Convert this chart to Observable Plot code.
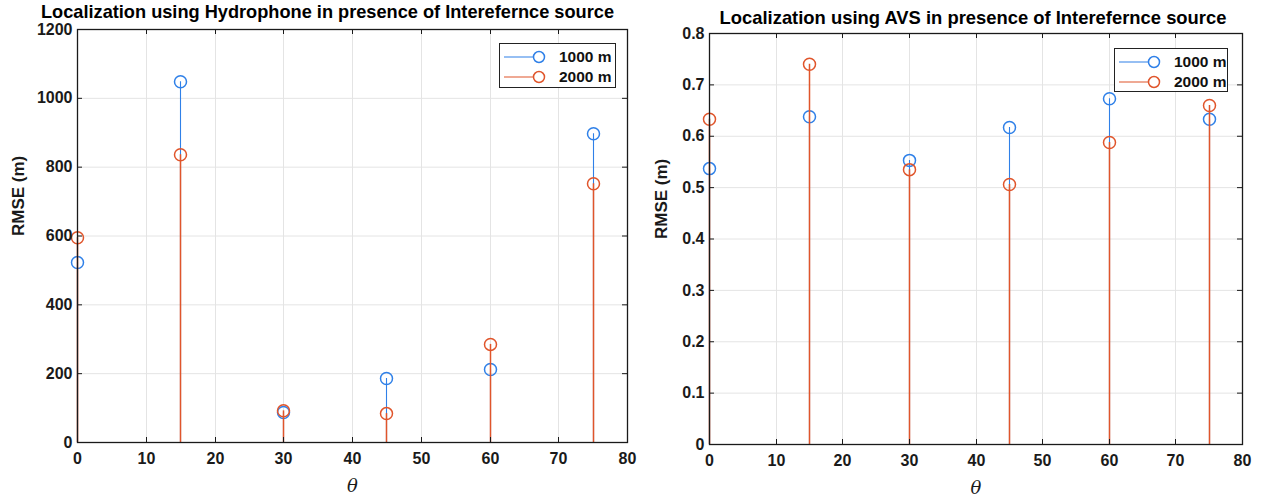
<!DOCTYPE html>
<html><head><meta charset="utf-8">
<script src="https://cdn.jsdelivr.net/npm/d3@7"></script>
<script src="https://cdn.jsdelivr.net/npm/@observablehq/plot@0.6"></script>
<style>
body{margin:0;background:#fff;font-family:"Liberation Sans",Arial,Helvetica,sans-serif}
#wrap{position:relative;width:1263px;height:497px;overflow:hidden}
.panel{position:absolute;top:0}
.legend{position:absolute;background:#fff;border:1.3px solid #222;box-sizing:border-box}
.legend .row{position:absolute;left:0;height:20px;display:flex;align-items:center;font-size:15.5px;font-weight:bold;color:#111}
.legend svg{display:block;margin-left:4px;margin-right:13px}
</style></head>
<body><div id="wrap"></div>
<script>
const theta = [0, 15, 30, 45, 60, 75];
const seriesNames = ["1000 m", "2000 m"];
const seriesColors = ["#2f80e8", "#e0552b"];
const hydro1000 = [523, 1048, 87, 186, 212, 897];
const hydro2000 = [595, 836, 92, 84, 285, 752];
const avs1000 = [0.537, 0.638, 0.553, 0.617, 0.673, 0.633];
const avs2000 = [0.633, 0.740, 0.535, 0.506, 0.588, 0.660];
const xTicks = [0, 10, 20, 30, 40, 50, 60, 70, 80];
const hydroYTicks = [0, 200, 400, 600, 800, 1000, 1200];
const avsYTicks = [0, 0.1, 0.2, 0.3, 0.4, 0.5, 0.6, 0.7, 0.8];
const titles = ["Localization using Hydrophone in presence of Interefernce source",
                "Localization using AVS in presence of Interefernce source"];
const xLabel = "θ";
const yLabel = "RMSE (m)";

const wrap = document.getElementById("wrap");

function panel({left, width, mLeft, mRight, mTop, mBottom, yMax, yTicks, s1, s2, title, titleSize, titleCenterY, titleDx, yLabelX, legendBox}) {
  const height = 497;
  const innerH = height - mTop - mBottom;
  const innerW = width - mLeft - mRight;
  const rows = theta.map((t, i) => ({theta: t, v: s1[i], s: seriesNames[0]}));
  const rows2 = theta.map((t, i) => ({theta: t, v: s2[i], s: seriesNames[1]}));
  const ink = "#1a1a1a";
  const p = Plot.plot({
    width, height, marginLeft: mLeft, marginRight: mRight, marginTop: mTop, marginBottom: mBottom,
    style: {fontFamily: '"Liberation Sans", Arial, sans-serif', background: "transparent", color: ink, overflow: "visible"},
    x: {domain: [0, 80], round: true},
    y: {domain: [0, yMax]},
    marks: [
      Plot.gridX(xTicks, {stroke: "#e4e4e4", strokeOpacity: 1}),
      Plot.gridY(yTicks, {stroke: "#e4e4e4", strokeOpacity: 1}),
      Plot.ruleX(rows, {x: "theta", y1: 0, y2: "v", stroke: seriesColors[0], strokeWidth: 1.1}),
      Plot.dot(rows, {x: "theta", y: "v", r: 6, stroke: seriesColors[0], strokeWidth: 1.5, fill: "none"}),
      Plot.ruleX(rows2, {x: "theta", y1: 0, y2: "v", stroke: seriesColors[1], strokeWidth: 1.5}),
      Plot.dot(rows2, {x: "theta", y: "v", r: 6, stroke: seriesColors[1], strokeWidth: 1.5, fill: "none"}),
      Plot.tickX(xTicks, {x: d => d, insetTop: innerH - 5, stroke: ink}),
      Plot.tickX(xTicks, {x: d => d, insetBottom: innerH - 5, stroke: ink}),
      Plot.tickY(yTicks, {y: d => d, insetRight: innerW - 5, stroke: ink}),
      Plot.tickY(yTicks, {y: d => d, insetLeft: innerW - 5, stroke: ink}),
      Plot.frame({stroke: ink, strokeWidth: 1.3}),
      Plot.axisX(xTicks, {tickSize: 0, tickPadding: 10, label: null, fontSize: 16, fontWeight: "bold", tickFormat: d => String(d)}),
      Plot.axisY(yTicks, {tickSize: 0, tickPadding: 5, label: null, fontSize: 16, fontWeight: "bold", tickFormat: d => String(d)}),
      Plot.text([xLabel], {frameAnchor: "bottom", lineAnchor: "middle", dy: 44, fontSize: 18, fontStyle: "italic", fontFamily: "DejaVu Serif", fill: ink}),
      Plot.text([yLabel], {frameAnchor: "left", dx: yLabelX - mLeft, rotate: -90, fontSize: 17, fontWeight: "bold", fill: ink}),
      Plot.text([title], {frameAnchor: "top", lineAnchor: "middle", dx: titleDx, dy: titleCenterY - mTop, fontSize: titleSize, fontWeight: "bold", fill: "#000"})
    ]
  });
  p.classList.add("panel");
  p.style.left = left + "px";
  wrap.appendChild(p);

  const lg = document.createElement("div");
  lg.className = "legend";
  lg.style.left = legendBox[0] + "px";
  lg.style.top = legendBox[1] + "px";
  lg.style.width = legendBox[2] + "px";
  lg.style.height = legendBox[3] + "px";
  seriesNames.forEach((name, i) => {
    const row = document.createElement("div");
    row.className = "row";
    row.style.top = (3 + i * 20) + "px";
    row.innerHTML = `<svg width="42" height="16"><line x1="0" y1="8" x2="35" y2="8" stroke="${seriesColors[i]}" stroke-width="1.2"/><circle cx="35" cy="8" r="5.5" fill="#fff" stroke="${seriesColors[i]}" stroke-width="1.5"/></svg><span>${name}</span>`;
    lg.appendChild(row);
  });
  wrap.appendChild(lg);
}

panel({left: 0, width: 640, mLeft: 77, mRight: 13, mTop: 29, mBottom: 55, yMax: 1200, yTicks: hydroYTicks,
       s1: hydro1000, s2: hydro2000, title: titles[0], titleSize: 18.2, titleCenterY: 12, titleDx: -25, yLabelX: 18, legendBox: [499, 43, 117, 45]});
panel({left: 640, width: 623, mLeft: 69, mRight: 21, mTop: 33, mBottom: 53, yMax: 0.8, yTicks: avsYTicks,
       s1: avs1000, s2: avs2000, title: titles[1], titleSize: 18.4, titleCenterY: 18, titleDx: -3, yLabelX: 21, legendBox: [1114, 48, 114, 44]});
</script>
</body></html>
